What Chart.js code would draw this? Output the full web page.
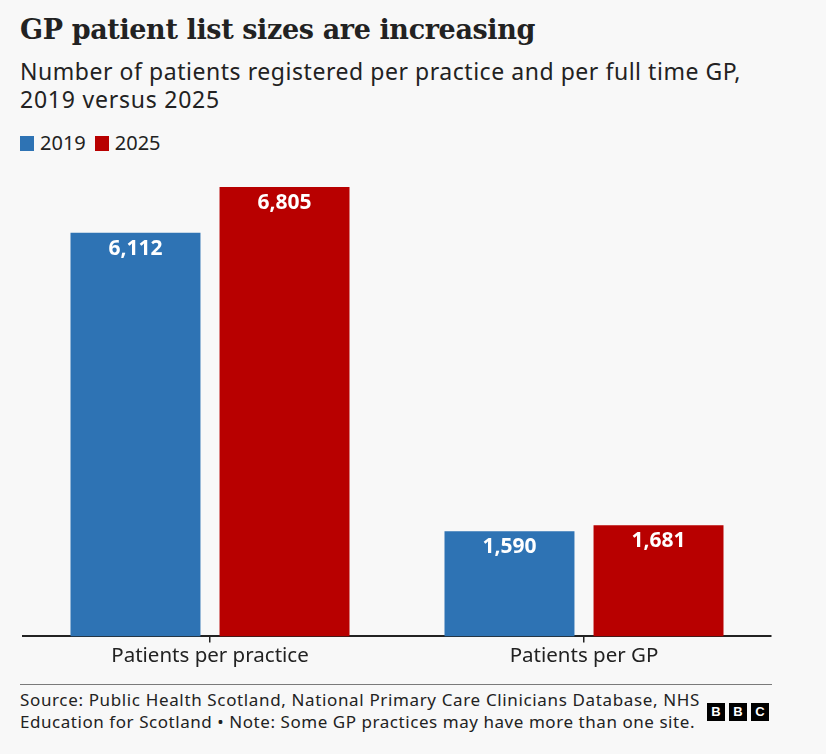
<!DOCTYPE html>
<html>
<head>
<meta charset="utf-8">
<script src="https://cdn.jsdelivr.net/npm/chart.js@4.4.1/dist/chart.umd.min.js"></script>
<style>
  html, body { margin: 0; padding: 0; background: #f8f8f8; }
  body { width: 826px; height: 754px; position: relative; overflow: hidden; font-family: "Noto Sans", sans-serif; color: #222; }
  .line { display: inline-block; white-space: nowrap; }
  #title { position: absolute; left: 20px; top: 10px; font-family: "DejaVu Serif", serif; font-weight: bold; font-size: 27px; line-height: 40px; color: #222; }
  #subtitle { position: absolute; left: 20px; top: 57px; font-size: 23px; line-height: 28px; color: #222; }
  #legend { position: absolute; left: 20px; top: 131px; font-size: 20px; line-height: 24px; display: flex; align-items: center; color: #222; }
  .sw { display: inline-block; width: 14px; height: 15px; margin-right: 6px; }
  .item { display: flex; align-items: center; margin-right: 9px; }
  #wrap { position: absolute; left: 0; top: 160px; width: 826px; height: 520px; }
  #sep { position: absolute; left: 20px; top: 684px; width: 752px; height: 1px; background: #7a7a7a; }
  #source { position: absolute; left: 20px; top: 689px; font-size: 17px; line-height: 22px; color: #222; }
  #logo { position: absolute; left: 707px; top: 703px; display: flex; gap: 4px; }
  #logo span { display: block; width: 18px; height: 18px; background: #000; color: #fff; font-family: "Liberation Sans", sans-serif; font-weight: bold; font-size: 13px; line-height: 18px; text-align: center; }
</style>
</head>
<body>
<div id="title"><span class="line" data-w="515">GP patient list sizes are increasing</span></div>
<div id="subtitle"><span class="line" data-w="721">Number of patients registered per practice and per full time GP,</span><br><span class="line" data-w="200">2019 versus 2025</span></div>
<div id="legend"></div>
<div id="wrap"><canvas id="c"></canvas></div>
<div id="sep"></div>
<div id="source"><span class="line" data-w="680">Source: Public Health Scotland, National Primary Care Clinicians Database, NHS</span><br><span class="line" data-w="675">Education for Scotland • Note: Some GP practices may have more than one site.</span></div>
<div id="logo"><span>B</span><span>B</span><span>C</span></div>
<script>
const categories = ["Patients per practice", "Patients per GP"];
const seriesNames = ["2019", "2025"];
const values2019 = [6112, 1590];
const values2025 = [6805, 1681];
const seriesColors = ["#2e73b4", "#b80000"];

document.querySelectorAll('.line[data-w]').forEach(el => {
  const target = parseFloat(el.dataset.w);
  const w = el.getBoundingClientRect().width;
  const n = el.textContent.length;
  el.style.letterSpacing = ((target - w) / n).toFixed(3) + 'px';
});

const legend = document.getElementById('legend');
seriesNames.forEach((n, i) => {
  const it = document.createElement('div');
  it.className = 'item';
  it.innerHTML = '<span class="sw" style="background:' + seriesColors[i] + '"></span><span>' + n + '</span>';
  legend.appendChild(it);
});

const labelPlugin = {
  id: 'barLabels',
  afterDatasetsDraw(chart) {
    const ctx = chart.ctx;
    ctx.save();
    ctx.fillStyle = '#ffffff';
    ctx.font = 'bold 21px "Noto Sans", sans-serif';
    ctx.textAlign = 'center';
    ctx.textBaseline = 'middle';
    chart.data.datasets.forEach((ds, di) => {
      chart.getDatasetMeta(di).data.forEach((bar, i) => {
        ctx.fillText(ds.data[i].toLocaleString('en-GB'), bar.x, bar.y + 16);
      });
    });
    ctx.restore();
  }
};

new Chart(document.getElementById('c'), {
  type: 'bar',
  data: {
    labels: categories,
    datasets: [
      { label: seriesNames[0], data: values2019, backgroundColor: seriesColors[0] },
      { label: seriesNames[1], data: values2025, backgroundColor: seriesColors[1] }
    ]
  },
  options: {
    responsive: true,
    maintainAspectRatio: false,
    animation: false,
    categoryPercentage: 0.797,
    barPercentage: 0.872,
    layout: { padding: { left: 23, right: 55, top: 14, bottom: 11 } },
    plugins: { legend: { display: false }, tooltip: { enabled: false } },
    scales: {
      y: { display: false, min: 0, max: 7000 },
      x: {
        grid: { display: true, drawOnChartArea: false, offset: false, tickLength: 6, color: '#222', lineWidth: 1.5 },
        border: { display: true, color: '#222', width: 2 },
        ticks: { color: '#222', font: { family: '"Noto Sans", sans-serif', size: 20.5 }, padding: 1 }
      }
    }
  },
  plugins: [labelPlugin]
});
</script>
</body>
</html>
